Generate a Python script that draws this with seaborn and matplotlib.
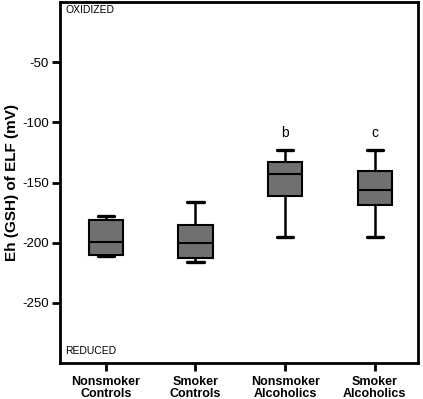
import numpy as np
import pandas as pd
import matplotlib
matplotlib.use('Agg')
import matplotlib.pyplot as plt
import seaborn as sns

# five-number summaries (min, q1, median, q3, max)
groups = ['Nonsmoker\nControls', 'Smoker\nControls', 'Nonsmoker\nAlcoholics', 'Smoker\nAlcoholics']
nonsmoker_controls = [-211, -210, -199.5, -181, -177.5]
smoker_controls = [-216, -213, -200, -185, -166]
nonsmoker_alcoholics = [-195, -161, -143, -133, -123]
smoker_alcoholics = [-195, -168.5, -156.5, -140, -123]
sig_labels = ['', '', 'b', 'c']
sig_y = -109

rows = []
for g, vals in zip(groups, [nonsmoker_controls, smoker_controls, nonsmoker_alcoholics, smoker_alcoholics]):
    for v in vals:
        rows.append({'group': g, 'eh': v})
df = pd.DataFrame(rows)

sns.set_style('ticks')
plt.rcParams['font.family'] = ['Liberation Sans', 'DejaVu Sans']
plt.rcParams['axes.unicode_minus'] = False
plt.rcParams['text.color'] = 'black'
plt.rcParams['axes.labelcolor'] = 'black'
plt.rcParams['xtick.color'] = 'black'
plt.rcParams['ytick.color'] = 'black'

fig = plt.figure(figsize=(4.23, 3.99), dpi=100, facecolor='white')
ax = fig.add_axes([0.142, 0.090, 0.846, 0.905])

line_kw = dict(color='black', linewidth=1.8)
sns.boxplot(data=df, x='group', y='eh', order=groups, whis=(0, 100), width=0.38,
            color='#707070', saturation=1, linecolor='black', linewidth=1.6,
            showfliers=False, ax=ax,
            boxprops=dict(facecolor='#707070', edgecolor='black', linewidth=1.5),
            whiskerprops=line_kw, capprops=dict(color='black', linewidth=2.4),
            medianprops=dict(color='black', linewidth=1.5), capwidths=0.18)

for i, lab in enumerate(sig_labels):
    if lab:
        ax.text(i, sig_y, lab, ha='center', va='center', fontsize=10)

ax.set_ylim(-300, 0)
ax.set_xlim(-0.51, 3.48)
ax.set_yticks([-250, -200, -150, -100, -50])
ax.set_xlabel('')
ax.set_ylabel('Eh (GSH) of ELF (mV)', fontsize=11, fontweight='bold', labelpad=2)

ax.text(0.014, 0.992, 'OXIDIZED', transform=ax.transAxes, ha='left', va='top', fontsize=7.5)
ax.text(0.014, 0.02, 'REDUCED', transform=ax.transAxes, ha='left', va='bottom', fontsize=7.5)

for s in ax.spines.values():
    s.set_linewidth(2)
    s.set_color('black')
ax.tick_params(axis='both', width=2, length=6, color='black', labelsize=9.5)
ax.tick_params(axis='y', pad=2)
ax.tick_params(axis='x', pad=3)
for t in ax.get_xticklabels():
    t.set_fontweight('bold')
    t.set_fontsize(9)
    t.set_linespacing(1.05)

fig.savefig('out.png', dpi=100, facecolor='white')
